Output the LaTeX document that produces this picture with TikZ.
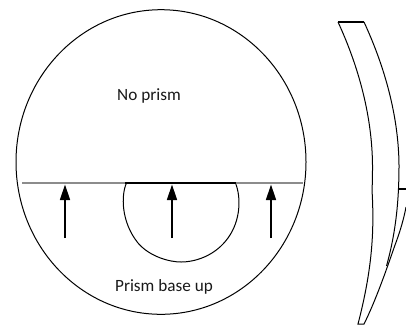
\documentclass[tikz,border=0pt]{standalone}
\usepackage{fontspec}
\setmainfont{Carlito}
\usetikzlibrary{arrows.meta}
\tikzset{
  outline/.style={draw=black,line width=1pt},
  greyline/.style={draw=black!45,line width=1.4pt},
  thickbar/.style={draw=black,line width=1.7pt},
  uparrow/.style={draw=black,line width=1.5pt,-{Triangle[length=15.5pt,width=10pt]}},
  lbl/.style={font=\fontsize{17.2}{20}\selectfont,inner sep=0pt,text=black!90}
}
\begin{document}
\begin{tikzpicture}[x=1pt,y=-1pt]
\useasboundingbox (0,0) rectangle (406,325);
\draw[outline] (161,162) ellipse[x radius=145,y radius=152.3];
% small segment
\draw[outline] (126.5,183) .. controls (121,195) and (121,222) .. (138,243) .. controls (150,257) and (170,262) .. (181,262) .. controls (195,262) and (215,256) .. (228,238) .. controls (241,220) and (241,197) .. (235.5,183);
\draw[greyline] (22,183) -- (303,183);
\draw[thickbar] (125,183) -- (236,183);
% arrows
\coordinate (a1s) at (65,238); \coordinate (a1e) at (65,184.5);
\coordinate (a2s) at (172,238); \coordinate (a2e) at (172,184.5);
\coordinate (a3s) at (271,238); \coordinate (a3e) at (271,184.5);
\draw[uparrow] (a1s) -- (a1e);
\draw[uparrow] (a2s) -- (a2e);
\draw[uparrow] (a3s) -- (a3e);
\node[lbl] (noprism) at (149,96) {No prism};
\node[lbl] (base) at (164,287) {Prism base up};
% side view
\draw[outline] (338,22) .. controls (356.5,62) and (372,112) .. (372.5,165) .. controls (372.5,172) and (372.5,182) .. (372,190) .. controls (374.5,232) and (372,270) .. (358,324) -- (364,324) .. controls (376,300) and (387,268) .. (395,245) .. controls (400,232) and (404,218) .. (406,207);
\draw[outline] (364,22) .. controls (382.5,62) and (398.5,112) .. (399,165) .. controls (399,200) and (396,232) .. (386.5,266);
\draw[thickbar] (338,22) -- (364,22);
\draw[thickbar] (399,189) -- (406,189);
\end{tikzpicture}
\end{document}
